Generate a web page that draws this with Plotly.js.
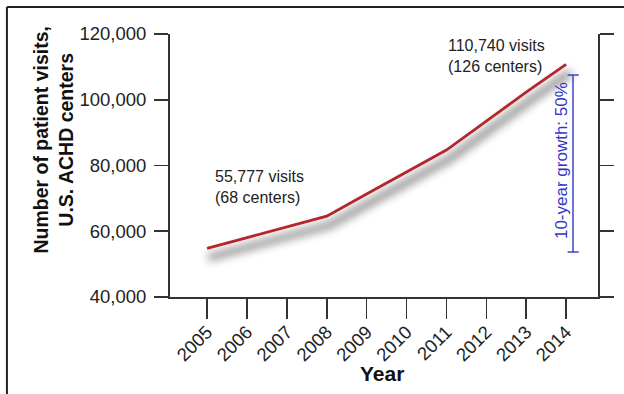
<!DOCTYPE html>
<html>
<head>
<meta charset="utf-8">
<script src="https://cdn.plot.ly/plotly-3.0.1.min.js"></script>
<style>
html,body{margin:0;padding:0;background:#fff;}
#chart{width:624px;height:394px;}
</style>
</head>
<body>
<div id="chart"></div>
<script>
// Data
var years = [2005, 2006, 2007, 2008, 2009, 2010, 2011, 2012, 2013, 2014];
var visits = [54800, 58000, 61300, 64600, 71300, 78000, 84700, 93500, 102300, 110740];
var yearLabels = ['2005','2006','2007','2008','2009','2010','2011','2012','2013','2014'];
var yTicks = [40000, 60000, 80000, 100000, 120000];

var FONT = 'Liberation Sans, Arial, Helvetica, sans-serif';
var AXC = '#333333';
var BLUE = '#3434cc';

var traces = [{
  x: years,
  y: visits,
  type: 'scatter',
  mode: 'lines',
  line: {color: '#b3262c', width: 2.8},
  hoverinfo: 'skip',
  showlegend: false
}];

var layout = {
  width: 624,
  height: 394,
  margin: {l: 170, r: 26, t: 34, b: 97},
  paper_bgcolor: '#ffffff',
  plot_bgcolor: '#ffffff',
  showlegend: false,
  font: {family: FONT, color: '#222222'},
  xaxis: {
    range: [2004.07, 2014.8],
    tickmode: 'array',
    tickvals: years,
    ticktext: yearLabels,
    tickangle: -45,
    ticks: 'outside',
    ticklen: 20,
    tickwidth: 1.6,
    tickcolor: AXC,
    showline: true,
    linecolor: AXC,
    linewidth: 2,
    showgrid: false,
    zeroline: false,
    ticklabelstandoff: -5,
    tickfont: {family: FONT, size: 18.5, color: '#222222'}
  },
  yaxis: {
    range: [40000, 120000],
    tickmode: 'array',
    tickvals: yTicks,
    tickformat: ',',
    ticks: 'outside',
    ticklen: 14,
    tickwidth: 1.6,
    tickcolor: AXC,
    showline: true,
    linecolor: AXC,
    linewidth: 2,
    mirror: 'ticks',
    showgrid: false,
    zeroline: false,
    ticklabelstandoff: 4,
    tickfont: {family: FONT, size: 18.5, color: '#222222'}
  },
  annotations: [
    {
      xref: 'paper', yref: 'paper', x: -0.272, y: 0.597,
      text: '<b>Number of patient visits,</b><br><b>U.S. ACHD centers</b>',
      textangle: -90, showarrow: false, xanchor: 'center', yanchor: 'middle',
      font: {family: FONT, size: 19.5, color: '#111111'}
    },
    {
      xref: 'paper', yref: 'paper', x: 0.495, y: -0.289,
      text: '<b>Year</b>', showarrow: false, xanchor: 'center', yanchor: 'middle',
      font: {family: FONT, size: 21, color: '#111111'}
    },
    {
      xref: 'paper', yref: 'paper', x: 0.1, y: 0.418,
      text: '55,777 visits<br>(68 centers)', align: 'left',
      showarrow: false, xanchor: 'left', yanchor: 'middle',
      font: {family: FONT, size: 16, color: '#222222'}
    },
    {
      xref: 'paper', yref: 'paper', x: 0.645, y: 0.916,
      text: '110,740 visits<br>(126 centers)', align: 'left',
      showarrow: false, xanchor: 'left', yanchor: 'middle',
      font: {family: FONT, size: 16, color: '#222222'}
    },
    {
      xref: 'paper', yref: 'paper', x: 0.9136, y: 0.517,
      text: '10-year growth: 50%', textangle: -90,
      showarrow: false, xanchor: 'center', yanchor: 'middle',
      font: {family: FONT, size: 17, color: BLUE}
    }
  ],
  shapes: [
    // outer frame (top and left)
    {type: 'line', xref: 'paper', yref: 'paper', x0: -0.381, x1: 1.07, y0: 1.1027, y1: 1.1027,
     line: {color: '#222222', width: 2}},
    {type: 'line', xref: 'paper', yref: 'paper', x0: -0.381, x1: -0.381, y0: 1.1027, y1: -0.4,
     line: {color: '#222222', width: 2}},
    // growth bracket
    {type: 'line', xref: 'paper', yref: 'paper', x0: 0.9416, x1: 0.9416, y0: 0.844, y1: 0.171,
     line: {color: BLUE, width: 1.4}},
    {type: 'line', xref: 'paper', yref: 'paper', x0: 0.929, x1: 0.955, y0: 0.844, y1: 0.844,
     line: {color: BLUE, width: 1.4}},
    {type: 'line', xref: 'paper', yref: 'paper', x0: 0.929, x1: 0.955, y0: 0.171, y1: 0.171,
     line: {color: BLUE, width: 1.4}}
  ]
};

Plotly.newPlot('chart', traces, layout, {displayModeBar: false, staticPlot: true}).then(function (gd) {
  var NS = 'http://www.w3.org/2000/svg';
  var svg = gd.querySelector('svg.main-svg');
  var defs = svg.querySelector('defs') || svg.insertBefore(document.createElementNS(NS, 'defs'), svg.firstChild);
  var f = document.createElementNS(NS, 'filter');
  f.setAttribute('id', 'lineShadow');
  f.setAttribute('x', '-20%'); f.setAttribute('y', '-30%');
  f.setAttribute('width', '140%'); f.setAttribute('height', '170%');
  f.innerHTML =
    '<feMorphology in="SourceAlpha" operator="dilate" radius="2" result="d"/>' +
    '<feGaussianBlur in="d" stdDeviation="4.5" result="b"/>' +
    '<feOffset in="b" dx="3" dy="9" result="o"/>' +
    '<feFlood flood-color="#000000" flood-opacity="0.4" result="c"/>' +
    '<feComposite in="c" in2="o" operator="in" result="s"/>' +
    '<feMerge><feMergeNode in="s"/><feMergeNode in="SourceGraphic"/></feMerge>';
  defs.appendChild(f);
  var p = gd.querySelector('.scatterlayer .trace path.js-line');
  if (p) p.setAttribute('filter', 'url(#lineShadow)');
});
</script>
</body>
</html>
